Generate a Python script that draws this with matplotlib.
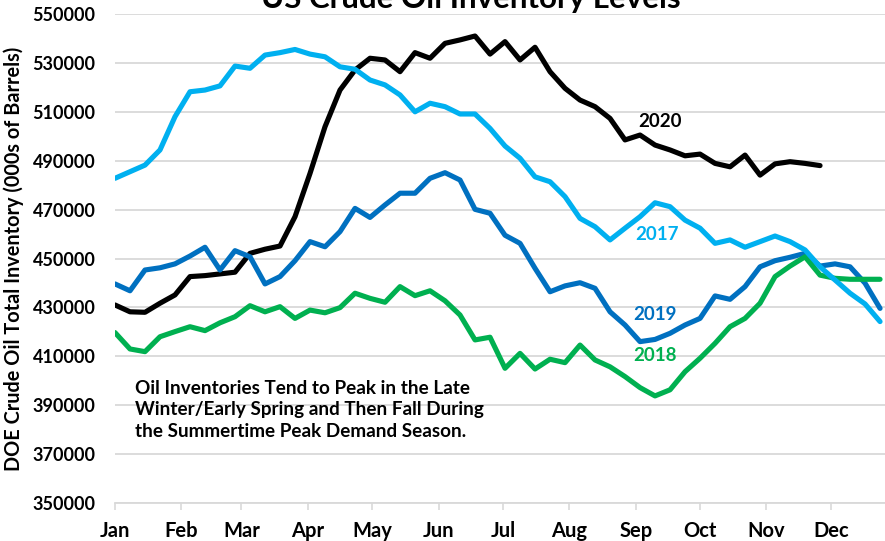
import matplotlib
matplotlib.use('Agg')
import matplotlib.pyplot as plt

plt.rcParams['font.family'] = ['Lato', 'DejaVu Sans']
plt.rcParams['font.weight'] = 'bold'

# weekly inventory, 000s of barrels (one value per week)
inv_2017 = [482800, 485500, 488200, 494400, 508000, 518200, 518900, 520600, 528700, 527800,
            533200, 534200, 535500, 533600, 532500, 528400, 527400, 523000, 521000, 516900,
            510000, 513500, 512100, 509100, 509100, 503200, 496000, 491000, 483400, 481400,
            475300, 466400, 463000, 457600, 462400, 467100, 472800, 471200, 465700, 462400,
            456200, 457600, 454600, 456900, 459200, 456900, 453500, 446600, 441200, 435800,
            431400, 424200]
inv_2018 = [419700, 413000, 411900, 418000, 420100, 422100, 420500, 423700, 426200, 430700,
            428200, 430300, 425500, 428900, 427800, 429900, 435800, 433700, 432100, 438500,
            434800, 436800, 432700, 426900, 416700, 417800, 405100, 411200, 404800, 408800,
            407400, 414600, 408500, 405700, 401700, 397200, 393800, 396300, 403700, 409200,
            415300, 422100, 425500, 431700, 442600, 446900, 450700, 443200, 441900, 441500,
            441500, 441500]
inv_2019 = [439600, 436800, 445300, 446200, 447800, 451000, 454600, 445300, 453200, 450700,
            439600, 442600, 449100, 456900, 454800, 461000, 470500, 466800, 471900, 476700,
            476700, 482800, 485100, 482100, 470100, 468500, 459500, 456200, 446000, 436400,
            438800, 440100, 437800, 428200, 422800, 416000, 416900, 419400, 422800, 425500,
            434700, 433300, 438500, 446600, 449100, 450500, 452100, 446900, 447800, 446600,
            439900, 429600]
inv_2020 = [431000, 428200, 428000, 431700, 435100, 442600, 443000, 443700, 444400, 452100,
            453800, 455100, 467100, 484800, 503900, 518900, 527100, 531900, 531200, 526400,
            534200, 531900, 538000, 539400, 541000, 533600, 538700, 531200, 536400, 526400,
            519600, 514800, 512100, 507300, 498500, 500500, 496400, 494400, 492000, 492700,
            488900, 487500, 492300, 484100, 488700, 489600, 488900, 488000]

months = ['Jan', 'Feb', 'Mar', 'Apr', 'May', 'Jun', 'Jul', 'Aug', 'Sep', 'Oct', 'Nov', 'Dec']
month_start_day = [0, 31, 59, 90, 120, 151, 181, 212, 243, 273, 304, 334]
y_ticks = list(range(350000, 550001, 20000))

colors = {'2017': '#00B0F0', '2018': '#00B050', '2019': '#0070C0', '2020': '#000000'}

fig = plt.figure(figsize=(8.85, 5.41), dpi=100)
ax = fig.add_axes([115 / 885, 38 / 541, 770 / 885, 489 / 541])

ax.plot(range(len(inv_2020)), inv_2020, color=colors['2020'], lw=3.7, solid_capstyle='round', zorder=3)
ax.plot(range(len(inv_2019)), inv_2019, color=colors['2019'], lw=3.7, solid_capstyle='round', zorder=4)
ax.plot(range(len(inv_2018)), inv_2018, color=colors['2018'], lw=3.7, solid_capstyle='round', zorder=5)
ax.plot(range(len(inv_2017)), inv_2017, color=colors['2017'], lw=3.7, solid_capstyle='round', zorder=6)

ax.set_xlim(0, 51.33)
ax.set_ylim(350000, 550000)
ax.set_yticks(y_ticks)
ax.set_yticklabels([str(v) for v in y_ticks], fontsize=13, fontweight='bold')
ax.set_xticks([d / 7 for d in month_start_day])
ax.set_xticklabels(months, fontsize=14.5, fontweight='bold')
ax.tick_params(axis='y', length=0, pad=14)
ax.tick_params(axis='x', length=5, width=1.2, color='#d9d9d9', pad=8)

ax.grid(axis='y', color='#d9d9d9', lw=1.3)
ax.set_axisbelow(True)
for s in ['top', 'right', 'left']:
    ax.spines[s].set_visible(False)
ax.spines['bottom'].set_color('#d9d9d9')
ax.spines['bottom'].set_linewidth(1.3)

ax.set_ylabel('DOE Crude Oil Total Inventory (000s of Barrels)', fontsize=14.3, fontweight='bold', labelpad=6)

ax.text(36.3, 506200, '2020', color=colors['2020'], fontsize=13.5, fontweight='bold', ha='center', va='center')
ax.text(36.1, 460000, '2017', color=colors['2017'], fontsize=13.5, fontweight='bold', ha='center', va='center')
ax.text(36.0, 427300, '2019', color=colors['2019'], fontsize=13.5, fontweight='bold', ha='center', va='center')
ax.text(36.0, 410500, '2018', color=colors['2018'], fontsize=13.5, fontweight='bold', ha='center', va='center')

ax.text(1.33, 400500,
        'Oil Inventories Tend to Peak in the Late\nWinter/Early Spring and Then Fall During\nthe Summertime Peak Demand Season.',
        fontsize=13.6, fontweight='bold', ha='left', va='top', linespacing=1.33)

fig.text(471 / 885, 533 / 541, 'US Crude Oil Inventory Levels', fontsize=22.5, fontweight='bold',
         ha='center', va='baseline')

fig.savefig('out.png', dpi=100)
